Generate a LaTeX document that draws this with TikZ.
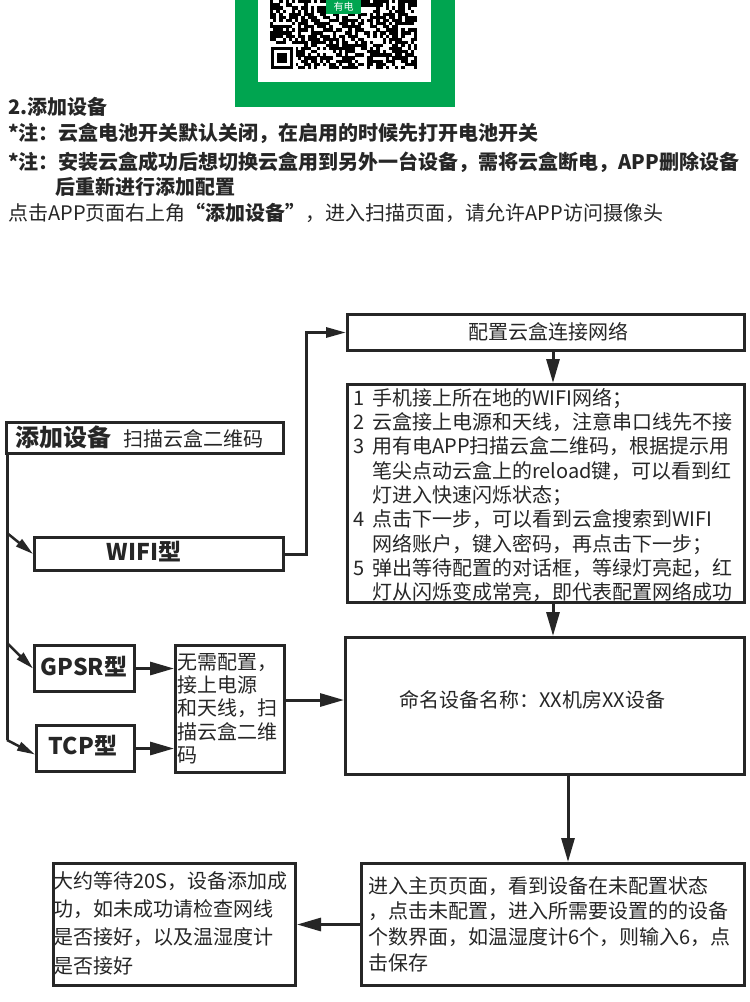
\documentclass[tikz,border=0pt]{standalone}
\usepackage{fontspec}
\setmainfont{Noto Sans CJK SC}
\usetikzlibrary{arrows.meta}
\definecolor{ink}{RGB}{38,38,38}
\definecolor{qrgreen}{RGB}{0,165,80}
\newcommand\fsA{\fontsize{20pt}{24pt}\selectfont}
\begin{document}
\begin{tikzpicture}[x=1pt,y=-1pt,
  box/.style={draw=ink, line width=3pt, rectangle, inner sep=0pt, anchor=north west},
  txt/.style={inner sep=0pt, text=ink, align=left, font=\fsA},
  lnk/.style={draw=ink, line width=3pt},
  arr/.style={draw=ink, line width=3pt, -{Triangle[length=24pt,width=13pt]}},
  arrs/.style={draw=ink, line width=3pt, -{Triangle[length=20pt,width=10pt]}},
  darr/.style={draw=ink, line width=2.5pt, -{Triangle[length=18pt,width=9pt]}}]
\useasboundingbox (0,0) rectangle (750,1002);
\fill[white] (0,0) rectangle (750,1002);
% QR code block
\fill[qrgreen] (235,-5) rectangle (455,107);
\fill[white] (258,-5) rectangle (431,82);
\pgfmathsetseed{4242}
\foreach \r in {0,...,22}{
  \foreach \c in {0,...,46}{
    \pgfmathrandominteger{\v}{0}{99}
    \ifnum\v<56
      \fill[black] ({270+\c*3.13},{-3+\r*3.13}) rectangle ++(3.25,3.25);
    \fi
  }
}
\fill[white] (269,44) rectangle (296,71);
\fill[black] (271,47) rectangle (293,69);
\fill[white] (274.2,50.2) rectangle (289.8,65.8);
\fill[black] (277.4,53.4) rectangle (286.6,62.6);
\fill[qrgreen] (326,-3) rectangle (361,14);
\node[inner sep=0pt, text=white, font=\fontsize{10pt}{10pt}\selectfont] (badge) at (343.5,7) {有电};
% top text
\node[txt, anchor=west, font=\fsA\bfseries] (t1) at (8,107) {2.添加设备};
\node[txt, anchor=west, font=\fsA\bfseries] (t2) at (8,133) {*注：云盒电池开关默认关闭，在启用的时候先打开电池开关};
\node[txt, anchor=west, font=\fsA\bfseries] (t3) at (8,162) {*注：安装云盒成功后想切换云盒用到另外一台设备，需将云盒断电，APP删除设备};
\node[txt, anchor=west, font=\fsA\bfseries] (t4) at (55,187) {后重新进行添加配置};
\node[txt, anchor=west] (t5) at (8,213) {点击APP页面右上角{\bfseries“添加设备”}，进入扫描页面，请允许APP访问摄像头};
% boxes
\node[box, minimum width=397pt, minimum height=36pt] (cfg) at (346,313) {};
\node[box, minimum width=397pt, minimum height=218pt] (steps) at (346,383) {};
\node[box, minimum width=277pt, minimum height=31pt] (add) at (5,421) {};
\node[box, minimum width=249pt, minimum height=33pt] (wifi) at (33,536) {};
\node[box, minimum width=100pt, minimum height=46pt] (gpsr) at (33,644) {};
\node[box, minimum width=98pt, minimum height=46pt] (tcp) at (35,724) {};
\node[box, minimum width=109pt, minimum height=127pt] (mid) at (174,644) {};
\node[box, minimum width=399pt, minimum height=137pt] (name) at (344,636) {};
\node[box, minimum width=242pt, minimum height=122pt] (wait) at (52,862) {};
\node[box, minimum width=383pt, minimum height=122pt] (main) at (360,862) {};
% box texts
\node[txt] (cfgt) at (548,332) {配置云盒连接网络};
\node[txt, anchor=north west, font=\fontsize{20pt}{24.3pt}\selectfont] (stepst) at (353,388) {%
\makebox[19pt][l]{1}手机接上所在地的WIFI网络；\\
\makebox[19pt][l]{2}云盒接上电源和天线，注意串口线先不接\\
\makebox[19pt][l]{3}用有电APP扫描云盒二维码，根据提示用\\
\hspace*{19pt}笔尖点动云盒上的reload键，可以看到红\\
\hspace*{19pt}灯进入快速闪烁状态；\\
\makebox[19pt][l]{4}点击下一步，可以看到云盒搜索到WIFI\\
\hspace*{19pt}网络账户，键入密码，再点击下一步；\\
\makebox[19pt][l]{5}弹出等待配置的对话框，等绿灯亮起，红\\
\hspace*{19pt}灯从闪烁变成常亮，即代表配置网络成功};
\node[txt, anchor=west] (addt) at (15,437) {{\fontsize{24pt}{24pt}\selectfont\bfseries 添加设备}\hspace{12pt}扫描云盒二维码};
\node[txt, font=\fontsize{23pt}{23pt}\selectfont\bfseries] (wifit) at (144,552) {WIFI型};
\node[txt, font=\fontsize{23pt}{23pt}\selectfont\bfseries] (gpsrt) at (84,667) {GPSR型};
\node[txt, font=\fontsize{23pt}{23pt}\selectfont\bfseries] (tcpt) at (83,746) {TCP型};
\node[txt, anchor=north west, font=\fontsize{20pt}{23.3pt}\selectfont] (midt) at (177,653) {无需配置，\\接上电源\\和天线，扫\\描云盒二维\\码};
\node[txt, anchor=west] (namet) at (399,700) {命名设备名称：XX机房XX设备};
\node[txt, anchor=north west, font=\fontsize{20pt}{28.3pt}\selectfont] (waitt) at (53,871) {大约等待20S，设备添加成\\功，如未成功请检查网线\\是否接好，以及温湿度计\\是否接好};
\node[txt, anchor=north west, font=\fontsize{20pt}{25.7pt}\selectfont] (maint) at (368,876) {进入主页页面，看到设备在未配置状态\\，点击未配置，进入所需要设置的的设备\\个数界面，如温湿度计6个，则输入6，点\\击保存};
% connectors
\coordinate (ta) at (7,533);
\coordinate (tb) at (7,643);
\coordinate (tc) at (7,740);
\draw[lnk] ([xshift=2pt]add.south west) -- (tc);
\draw[darr] (ta) -- (wifi.west);
\draw[darr] (tb) -- (gpsr.west);
\draw[darr] (tc) -- ([yshift=-6pt]tcp.west);
\draw[arrs] (wifi.east) -- ++(21,0) |- (cfg.west);
\draw[arr] ([xshift=7pt]cfg.south) -- ([xshift=7pt]cfg.south |- steps.north);
\draw[arr] ([xshift=7pt]steps.south) -- ([xshift=7pt]steps.south |- name.north);
\draw[arr] (gpsr.east) -- (gpsr.east -| mid.west);
\draw[arr] (tcp.east) -- (tcp.east -| mid.west);
\draw[arr] ([yshift=9pt]mid.east) -- ([yshift=9pt]mid.east -| name.west);
\draw[arr] ([xshift=23pt]name.south) -- ([xshift=23pt]name.south |- main.north);
\draw[arr] (main.west) -- (wait.east);
\end{tikzpicture}
\end{document}
